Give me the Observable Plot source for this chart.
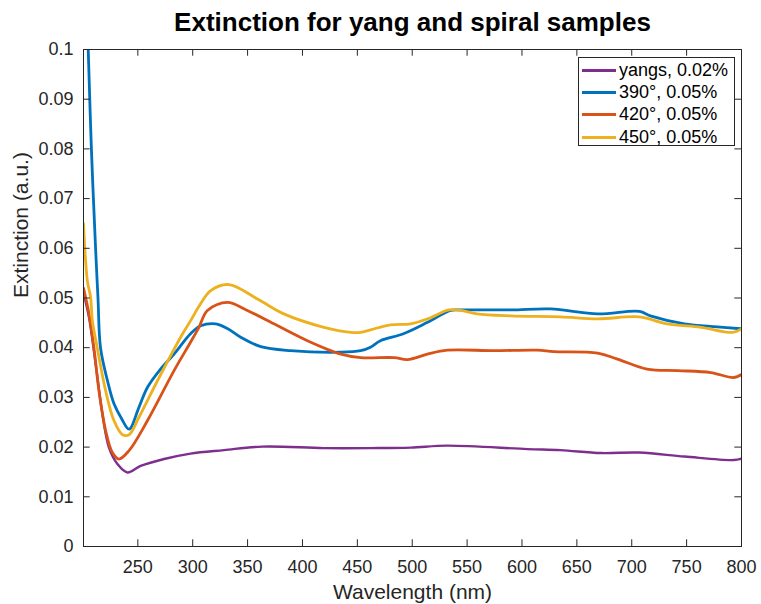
<!DOCTYPE html>
<html>
<head>
<meta charset="utf-8">
<script src="https://cdn.jsdelivr.net/npm/d3@7"></script>
<script src="https://cdn.jsdelivr.net/npm/@observablehq/plot@0.6"></script>
<style>
  html, body { margin: 0; padding: 0; background: #fff; }
  #wrap { position: relative; width: 761px; height: 604px; font-family: "Liberation Sans", Arial, Helvetica, sans-serif; }
  #legend { position: absolute; left: 578px; top: 57px; width: 155px; height: 87px; border: 1px solid #262626; background: #fff; }
  .row { position: absolute; left: 3px; height: 22px; display: flex; align-items: center; font-size: 18px; color: #000; white-space: nowrap; }
  .sw { display: inline-block; width: 34px; height: 3px; margin-right: 3px; }
</style>
</head>
<body>
<div id="wrap"></div>
<script>
// ---- data ----
const seriesNames = ["yangs, 0.02%", "390°, 0.05%", "420°, 0.05%", "450°, 0.05%"];
const seriesColors = ["#7E2F8E", "#0072BD", "#D95319", "#EDB120"];

const yangsNm  = [200.5, 205.5, 211.6, 217.7, 223.7, 231.4, 240.5, 252.6, 273.9, 298, 328.5, 363.5, 419.6, 462, 498.6, 532, 605, 635, 672, 707, 748, 793, 800];
const yangsExt = [0.051, 0.0461, 0.0367, 0.0267, 0.0199, 0.0166, 0.0149, 0.0162, 0.0176, 0.0187, 0.0194, 0.0201, 0.0198, 0.0198, 0.0199, 0.0203, 0.0196, 0.0194, 0.0188, 0.0189, 0.0181, 0.0174, 0.0177];

const s390Nm  = [200.5, 204.8, 207.7, 211.5, 213.7, 216, 222.3, 228.3, 235, 242, 251, 258.7, 270, 283, 298, 307.3, 321, 332, 343.7, 362, 389, 435, 453, 462, 471, 492, 514, 535, 544, 590, 626, 669, 707, 717, 748, 778, 800];
const s390Ext = [0.128, 0.100, 0.080, 0.060, 0.050, 0.040, 0.0334, 0.0287, 0.0258, 0.0236, 0.028, 0.032, 0.0355, 0.0387, 0.0428, 0.0444, 0.0448, 0.0438, 0.0421, 0.0402, 0.0394, 0.0391, 0.0394, 0.0401, 0.0414, 0.0428, 0.0451, 0.0475, 0.0476, 0.0476, 0.0478, 0.0468, 0.0473, 0.0464, 0.0448, 0.0442, 0.0438];

const s420Nm  = [200.5, 205.5, 210, 214.6, 220.7, 226.8, 232.8, 242, 258.7, 283, 298, 305.7, 313.4, 331.6, 349.8, 374, 404.5, 435, 453, 483.5, 495.6, 513.8, 532, 574.5, 614, 629, 669, 687, 714, 742, 772, 793, 800];
const s420Ext = [0.052, 0.0468, 0.040, 0.0313, 0.0233, 0.0189, 0.0176, 0.0193, 0.0253, 0.0354, 0.0411, 0.0441, 0.0475, 0.0491, 0.0475, 0.0448, 0.0414, 0.0387, 0.038, 0.038, 0.0376, 0.0387, 0.0395, 0.0394, 0.0395, 0.0392, 0.0389, 0.0377, 0.0357, 0.0354, 0.035, 0.034, 0.0346];

const s450Nm  = [200.5, 204, 207, 208.6, 213, 220.7, 228.3, 236, 242, 251, 268, 289, 298, 307, 316.4, 333, 359, 383, 419.6, 444, 453, 462, 480, 498.6, 514, 533.5, 544, 559, 590, 635, 669, 707, 732, 763, 792, 800];
const s450Ext = [0.065, 0.0535, 0.0501, 0.0454, 0.040, 0.0313, 0.0253, 0.0225, 0.0225, 0.026, 0.0334, 0.0421, 0.0454, 0.0488, 0.0515, 0.0527, 0.0498, 0.0468, 0.0441, 0.0431, 0.0431, 0.0436, 0.0446, 0.0448, 0.0458, 0.0476, 0.0475, 0.0468, 0.0464, 0.0462, 0.0458, 0.0462, 0.0448, 0.0441, 0.0431, 0.0438];

const xTicks = [250, 300, 350, 400, 450, 500, 550, 600, 650, 700, 750, 800];
const yTicks = [0, 0.01, 0.02, 0.03, 0.04, 0.05, 0.06, 0.07, 0.08, 0.09, 0.1];
const xDomain = [200.5, 800];
const yDomain = [0, 0.1];

const titleText = "Extinction for yang and spiral samples";
const xLabel = "Wavelength (nm)";
const yLabel = "Extinction (a.u.)";

// ---- build ----
const nmArrays = [yangsNm, s390Nm, s420Nm, s450Nm];
const extArrays = [yangsExt, s390Ext, s420Ext, s450Ext];
const widths = [2.4, 2.8, 2.8, 2.8];
const axisColor = "#262626";
const font = '"Liberation Sans", Arial, Helvetica, sans-serif';

const tickLenY = 0.00135; // ~6.7px in y units
const tickLenX = 6.1;     // ~6.7px in x units

const lineMarks = seriesNames.map((name, i) =>
  Plot.line(nmArrays[i].map((nm, j) => ({nm, ext: extArrays[i][j], name})), {
    x: "nm", y: "ext", stroke: seriesColors[i], strokeWidth: widths[i],
    curve: "catmull-rom",
    strokeLinejoin: "round", strokeLinecap: "round", clip: true
  })
);

const chart = Plot.plot({
  width: 761,
  height: 604,
  marginLeft: 83,
  marginRight: 20,
  marginTop: 49,
  marginBottom: 58,
  style: {fontFamily: font, fontSize: "18px", color: axisColor, background: "#fff"},
  x: {domain: xDomain, label: null},
  y: {domain: yDomain, label: null},
  marks: [
    ...lineMarks,
    Plot.frame({stroke: axisColor, strokeWidth: 1}),
    // inward ticks on all four sides
    Plot.ruleX(xTicks, {x: d => d, y1: yDomain[0], y2: yDomain[0] + tickLenY, stroke: axisColor}),
    Plot.ruleX(xTicks, {x: d => d, y1: yDomain[1], y2: yDomain[1] - tickLenY, stroke: axisColor}),
    Plot.ruleY(yTicks, {y: d => d, x1: xDomain[0], x2: xDomain[0] + tickLenX, stroke: axisColor}),
    Plot.ruleY(yTicks, {y: d => d, x1: xDomain[1], x2: xDomain[1] - tickLenX, stroke: axisColor}),
    Plot.axisX({ticks: xTicks, tickSize: 0, tickPadding: 14, label: null, tickFormat: d => String(d), fill: axisColor, fontSize: 18}),
    Plot.axisY({ticks: yTicks, tickSize: 0, tickPadding: 10, label: null, tickFormat: d => String(+d.toFixed(2)), fill: axisColor, fontSize: 18}),
    Plot.text([titleText], {frameAnchor: "top", lineAnchor: "middle", dy: -26.5, fontSize: 26, fontWeight: "bold", fill: "#000"}),
    Plot.text([xLabel], {frameAnchor: "bottom", lineAnchor: "middle", dy: 45.5, fontSize: 21, fill: axisColor}),
    Plot.text([yLabel], {frameAnchor: "left", lineAnchor: "middle", rotate: -90, dx: -62.5, fontSize: 21, fill: axisColor})
  ]
});

const wrap = document.getElementById("wrap");
wrap.appendChild(chart);

// legend
const legend = document.createElement("div");
legend.id = "legend";
const rowCenters = [13.7, 35.8, 57.9, 80.0];
seriesNames.forEach((name, i) => {
  const row = document.createElement("div");
  row.className = "row";
  row.style.top = (rowCenters[i] - 1 - 11) + "px";
  const sw = document.createElement("span");
  sw.className = "sw";
  sw.style.background = seriesColors[i];
  const tx = document.createElement("span");
  tx.textContent = name;
  row.appendChild(sw);
  row.appendChild(tx);
  legend.appendChild(row);
});
wrap.appendChild(legend);
</script>
</body>
</html>
